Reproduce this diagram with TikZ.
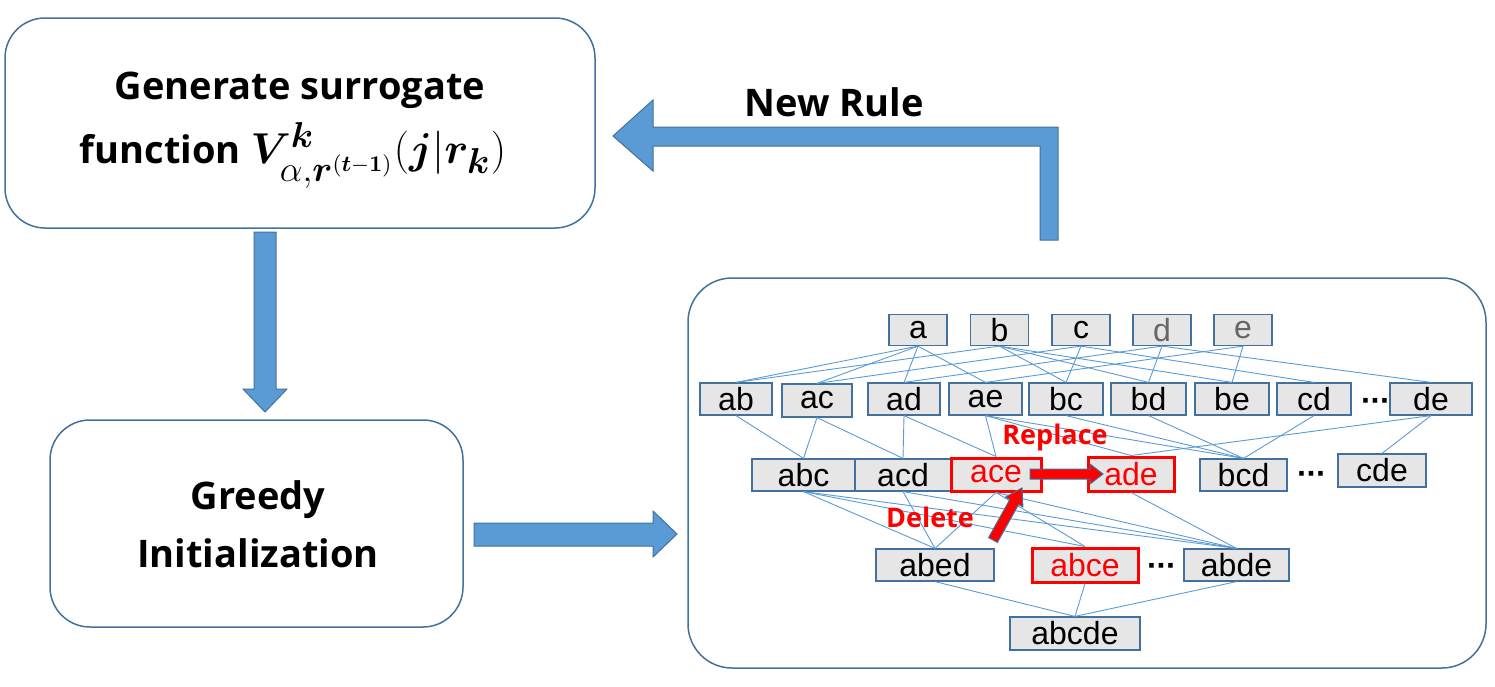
\documentclass[tikz,border=0pt]{standalone}
\usepackage{amsmath,bm}
\usepackage{graphicx}
\usepackage{fontspec}
\setmainfont{Open Sans}
\newfontfamily\latf{Liberation Sans}
\usetikzlibrary{calc}
\definecolor{arrblue}{RGB}{91,155,213}
\definecolor{edgeblue}{RGB}{65,113,156}
\definecolor{lineblue}{RGB}{91,155,213}
\definecolor{boxgray}{RGB}{230,230,230}
\newcommand{\tightdots}{\textbf{·\kern-0.6pt·\kern-0.6pt·}}
\begin{document}
\begin{tikzpicture}[x=0.5pt,y=-0.5pt,
  rbox/.style={draw=edgeblue, line width=0.75pt, rounded corners=20pt, inner sep=0pt},
  big/.style={font=\fontsize{19}{22}\selectfont\bfseries},
  lb/.style={draw=edgeblue, line width=0.6pt, fill=boxgray, inner sep=0pt,
    font=\latf\fontsize{16}{18}\selectfont, minimum height=16pt},
  lbred/.style={lb, draw=red, line width=1.5pt, text=red},
  lblight/.style={lb, text=black!60},
  dotlab/.style={inner sep=0pt, font=\latf\fontsize{16}{18}\selectfont},
  ln/.style={draw=lineblue, line width=0.45pt},
  barrow/.style={fill=arrblue, draw=edgeblue, line width=0.5pt},
  rarrow/.style={fill=red, draw=edgeblue, line width=0.5pt},
  redlab/.style={text=red, inner sep=0pt, font=\fontsize{13.5}{15}\selectfont\bfseries}
]
\useasboundingbox (0,0) rectangle (1495,686);

% main boxes
\node[rbox, minimum width=295pt, minimum height=105pt] (gen) at (300,123) {};
\node[big] (gent1) at (300,90) {Generate surrogate};
\node[big, anchor=base] (gent2) at (293,163) {function \scalebox{1.25}{$\bm{V}^{\bm{k}}_{\alpha,\bm{r}^{(\bm{t}-\bm{1})}}(\bm{j}|\bm{r}_{\bm{k}})$}};

\node[rbox, minimum width=206.5pt, minimum height=103.5pt] (greedy) at (256.5,523.5) {};
\node[big] (gr1) at (258,500) {Greedy};
\node[big] (gr2) at (258,553) {Initialization};

\node[rbox, rounded corners=22pt, minimum width=399pt, minimum height=195pt] (lat) at (1087,473) {};

% block arrows
\draw[barrow] (254,232) -- (276,232) -- (276,389) -- (287,389) -- (265,412) -- (243,389) -- (254,389) -- cycle;
\draw[barrow] (474,523) -- (653,523) -- (653,511) -- (677,534) -- (653,557) -- (653,546) -- (474,546) -- cycle;
\draw[barrow] (1040,240) -- (1040,146) -- (653,146) -- (653,171) -- (613,136) -- (653,100) -- (653,127) -- (1058,127) -- (1058,240) -- cycle;
\node[big] (newrule) at (834,102) {New Rule};

% lattice row 1
\node[lb, minimum width=29pt, minimum height=15.5pt] (a) at (918,330) {a};
\node[lb, minimum width=29pt, minimum height=15.5pt] (b) at (999.5,330) {b};
\node[lb, minimum width=29pt, minimum height=15.5pt] (c) at (1081,330) {c};
\node[lblight, minimum width=29pt, minimum height=15.5pt] (d) at (1162,330) {d};
\node[lblight, minimum width=29pt, minimum height=15.5pt] (e) at (1243,330) {e};

% row 2
\node[lb, minimum width=36pt] (ab) at (736,399) {ab};
\node[lb, minimum width=35pt, minimum height=16.5pt] (ac) at (817,400.5) {ac};
\node[lb, minimum width=36pt] (ad) at (904,399) {ad};
\node[lb, minimum width=36.5pt] (ae) at (985.5,399) {ae};
\node[lb, minimum width=37pt] (bc) at (1066,399) {bc};
\node[lb, minimum width=37.5pt] (bd) at (1148.5,399) {bd};
\node[lb, minimum width=37pt] (be) at (1232,399) {be};
\node[lb, minimum width=37pt] (cd) at (1314,399) {cd};
\node[dotlab] (dots1) at (1376,405) {\tightdots};
\node[lb, minimum width=41pt] (de) at (1431,399) {de};

% row 3
\node[lb, minimum width=51.5pt] (abc) at (803.5,475) {abc};
\node[lb, minimum width=48pt] (acd) at (903,475) {acd};
\node[lbred, minimum width=45pt, minimum height=16.5pt] (ace) at (996,474.5) {ace};
\node[lbred, minimum width=43pt, minimum height=17pt] (ade) at (1131,474) {ade};
\node[lb, minimum width=43.5pt] (bcd) at (1243.5,475) {bcd};
\node[dotlab] (dots2) at (1312,478) {\tightdots};
\node[lb, minimum width=44pt, minimum height=16.5pt] (cde) at (1382,470.5) {cde};

% row 4
\node[lb, minimum width=59pt] (abed) at (935,565) {abed};
\node[lbred, minimum width=53pt, minimum height=17pt] (abce) at (1085,565) {abce};
\node[dotlab] (dots3) at (1162,570) {\tightdots};
\node[lb, minimum width=52.5pt] (abde) at (1236.5,565) {abde};
\node[lb, minimum width=65pt, minimum height=16.5pt] (abcde) at (1075,633.5) {abcde};

% edges row1 -> row2
\foreach \s/\t in {a/ab,a/ac,a/ad,a/ae,b/ab,b/bc,b/bd,b/be,c/ac,c/bc,c/cd,d/ad,d/bd,d/de,e/ae,e/be}
  \draw[ln] (\s.south) -- (\t.north);
% row2 -> row3
\foreach \s/\t in {ab/abc,ac/abc,ac/acd,ad/acd,ad/ace,ae/ace,ae/ade,ae/bcd,bc/bcd,bd/bcd,cd/bcd,de/ade,de/cde}
  \draw[ln] (\s.south) -- (\t.north);
% row3 -> row4
\foreach \s/\t in {abc/abed,abc/abce,abc/abde,acd/abed,acd/abde,ace/abed,ace/abce,ace/abde,ade/abde}
  \draw[ln] (\s.south) -- (\t.north);
% row4 -> top
\foreach \s in {abed,abce,abde}
  \draw[ln] (\s.south) -- (abcde.north);

% red labels and arrows
\node[redlab] (replace) at (1055,437) {Replace};
\node[redlab] (delete) at (930,517) {Delete};
\draw[rarrow] (1030,469) -- (1090,469) -- (1090,464) -- (1103,474) -- (1090,484) -- (1090,479) -- (1030,479) -- cycle;
\draw[rarrow] (988.6,537.6) -- (1009.8,499.6) -- (1005.5,497.1) -- (1022,488) -- (1022.9,506.9) -- (1018.6,504.4) -- (997.4,542.4) -- cycle;
\end{tikzpicture}
\end{document}
